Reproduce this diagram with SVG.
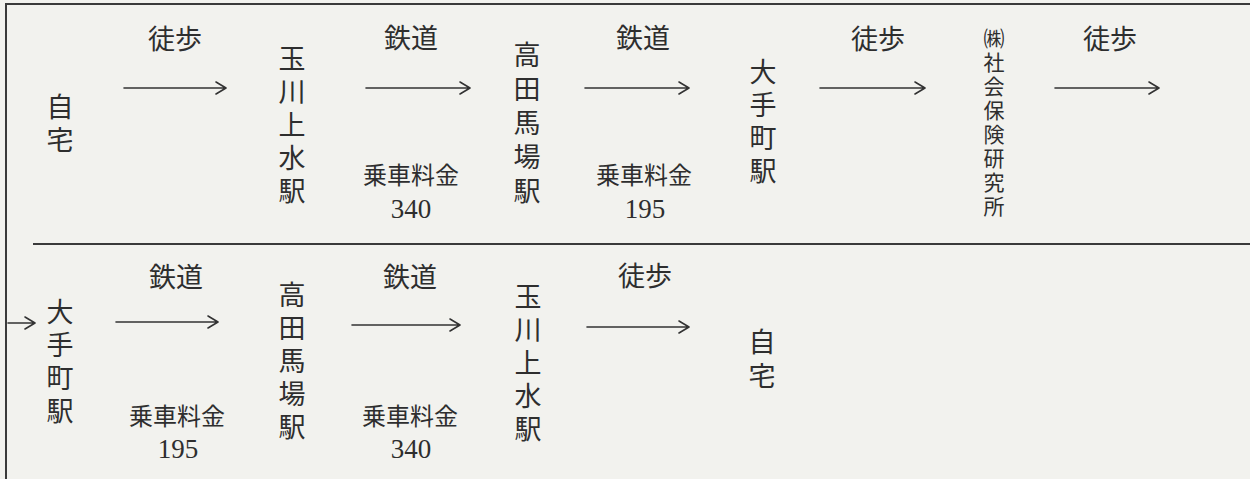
<svg xmlns="http://www.w3.org/2000/svg" width="1250" height="479" viewBox="0 0 1250 479">
<defs>
<style>
.bg{fill:#f2f2ee}
.frame{stroke:#3a3a3a;stroke-width:2;fill:none}
.arr{stroke:#333;stroke-width:1.6;fill:none;stroke-linecap:round;stroke-linejoin:round}
.j{font-family:"Noto Sans CJK JP","Noto Sans",sans-serif;font-size:27px;fill:#2e2e2e;text-anchor:middle}
.v{font-family:"Noto Sans CJK JP","Noto Sans",sans-serif;font-size:27px;fill:#2e2e2e;text-anchor:start;writing-mode:vertical-rl;text-orientation:upright;letter-spacing:6px}
.s{font-size:24px}
.n{font-family:"Liberation Serif","Times New Roman",serif;font-size:27px;fill:#2e2e2e;text-anchor:middle}
</style>
</defs>
<rect class="bg" x="0" y="0" width="1250" height="479"/>
<g id="frame">
<path class="frame" d="M6 479 V4 H1250"/>
<path class="frame" d="M33 244 H1250"/>
</g>
<g id="connectors">
<path class="arr" d="M124 88 H226 M216 82 L226 88 L216 94"/>
<path class="arr" d="M366 88 H470 M460 82 L470 88 L460 94"/>
<path class="arr" d="M585 88 H689 M679 82 L689 88 L679 94"/>
<path class="arr" d="M820 88 H925 M915 82 L925 88 L915 94"/>
<path class="arr" d="M1055 88 H1159 M1149 82 L1159 88 L1149 94"/>
<path class="arr" d="M8 323 H35 M25 317 L35 323 L25 329"/>
<path class="arr" d="M116 322 H218 M208 316 L218 322 L208 328"/>
<path class="arr" d="M352 325 H460 M450 319 L460 325 L450 331"/>
<path class="arr" d="M587 327 H689 M679 321 L689 327 L679 333"/>
<text class="j" x="175" y="49">徒歩</text>
<text class="j" x="411" y="48">鉄道</text>
<text class="j s" x="411" y="184">乗車料金</text>
<text class="n" x="411" y="218">340</text>
<text class="j" x="643" y="48">鉄道</text>
<text class="j s" x="644" y="184">乗車料金</text>
<text class="n" x="645" y="218">195</text>
<text class="j" x="878" y="49">徒歩</text>
<text class="j" x="1110" y="49">徒歩</text>
<text class="j" x="176" y="287">鉄道</text>
<text class="j s" x="177" y="425">乗車料金</text>
<text class="n" x="178" y="458">195</text>
<text class="j" x="410" y="287">鉄道</text>
<text class="j s" x="410" y="425">乗車料金</text>
<text class="n" x="411" y="458">340</text>
<text class="j" x="645" y="286">徒歩</text>
</g>
<g id="home1"><text class="v" x="60" y="93">自宅</text></g>
<g id="tamagawa1"><text class="v" x="292" y="45">玉川上水駅</text></g>
<g id="takadanobaba1"><text class="v" x="527" y="41" style="letter-spacing:7px">高田馬場駅</text></g>
<g id="otemachi1"><text class="v" x="763" y="58">大手町駅</text></g>
<g id="institute"><text class="v" x="994" y="28" style="font-size:21px;letter-spacing:3px">㈱社会保険研究所</text></g>
<g id="otemachi2"><text class="v" x="60" y="298">大手町駅</text></g>
<g id="takadanobaba2"><text class="v" x="292" y="281">高田馬場駅</text></g>
<g id="tamagawa2"><text class="v" x="528" y="283">玉川上水駅</text></g>
<g id="home2"><text class="v" x="762" y="328" style="letter-spacing:7px">自宅</text></g>
</svg>
